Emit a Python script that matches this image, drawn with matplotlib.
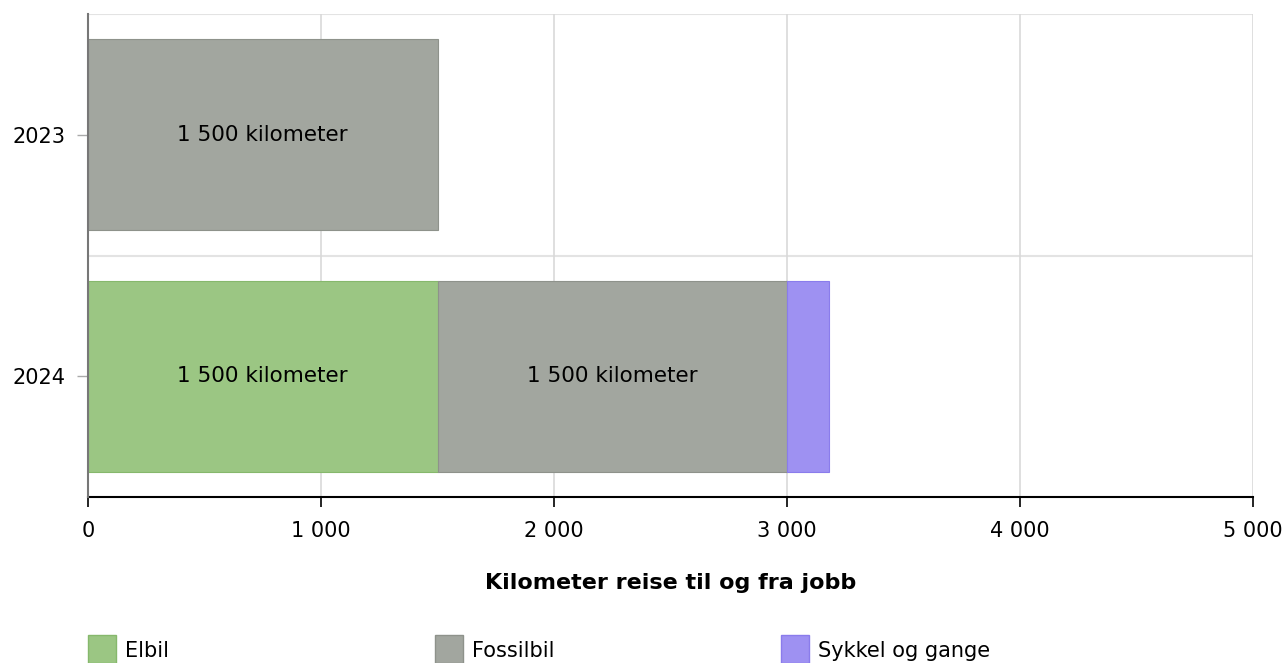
import matplotlib
matplotlib.use("Agg")
import matplotlib.pyplot as plt
from matplotlib.patches import Rectangle

years = ["2023", "2024"]
series = ["Elbil", "Fossilbil", "Sykkel og gange"]
elbil = [0, 1500]
fossilbil = [1500, 1500]
sykkel = [0, 180]
colors = ["#9bc683", "#a2a69f", "#9e91f2"]
edges = ["#86b86c", "#8e928b", "#8a7cec"]
xticks = [0, 1000, 2000, 3000, 4000, 5000]
xticklabels = ["0", "1 000", "2 000", "3 000", "4 000", "5 000"]

plt.rcParams["font.family"] = ["DejaVu Sans"]
fig = plt.figure(figsize=(12.87, 6.63), dpi=100)
ax = fig.add_axes([88/1287, 1-497/663, (1253-88)/1287, (497-14)/663])

ypos = list(range(len(years)))
left = [0]*len(years)
for vals, name, c, ec in zip([elbil, fossilbil, sykkel], series, colors, edges):
    # skip empty segments so no stray edge lines are drawn
    yy = [y for y, v in zip(ypos, vals) if v > 0]
    vv = [v for v in vals if v > 0]
    ll = [l for l, v in zip(left, vals) if v > 0]
    ax.barh(yy, vv, left=ll, height=0.79, color=c, edgecolor=ec,
            linewidth=0.8, zorder=3)
    for y, v, l in zip(yy, vv, ll):
        if v >= 1000:
            ax.text(l + v/2, y, "%s kilometer" % format(v, ",").replace(",", " "),
                    ha="center", va="center", fontsize=15.5, zorder=4)
    left = [a+b for a, b in zip(left, vals)]

ax.set_xlim(0, 5000)
ax.set_ylim(1.5, -0.5)
ax.set_xticks(xticks)
ax.set_xticklabels(xticklabels, fontsize=15)
ax.set_yticks(ypos)
ax.set_yticklabels(years, fontsize=15)
ax.tick_params(axis="x", length=7, width=1.2, color="black", pad=10)
ax.tick_params(axis="y", length=8, width=1, color="#aaaaaa", pad=8)
ax.grid(axis="x", color="#d9d9d9", linewidth=1.2, zorder=0)
for yb in [-0.5, 0.5]:
    ax.axhline(yb, color="#e3e3e3", linewidth=1.5, zorder=0)
for s in ["top", "right"]:
    ax.spines[s].set_visible(False)
ax.spines["left"].set_color("#777777")
ax.spines["left"].set_linewidth(1.5)
ax.spines["bottom"].set_color("black")
ax.spines["bottom"].set_linewidth(1.5)
ax.spines["left"].set_zorder(5)
ax.set_xlabel("Kilometer reise til og fra jobb", fontsize=16, fontweight="bold",
              labelpad=23)

# legend along the bottom edge
leg_x = [88, 435, 781]
for x, name, c, ec in zip(leg_x, series, colors, edges):
    fig.patches.append(Rectangle((x/1287, 0), 28/1287, 28/663,
                                 transform=fig.transFigure, facecolor=c,
                                 edgecolor=ec, linewidth=1))
    fig.text((x+37)/1287, 1-651/663, name, fontsize=15, va="center", ha="left")

fig.savefig("out.png", dpi=100)
